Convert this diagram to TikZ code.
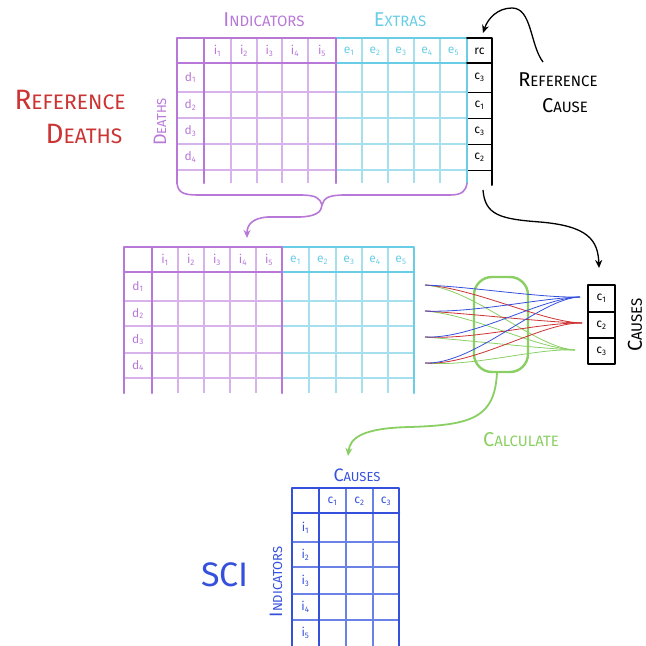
\documentclass[tikz,border=0pt]{standalone}
\usepackage{fontspec}
\setmainfont{Fira Sans}
\usetikzlibrary{arrows.meta}
\definecolor{pur}{HTML}{B878D8}
\definecolor{purl}{HTML}{D8B2EA}
\definecolor{cya}{HTML}{6ACDE6}
\definecolor{cyal}{HTML}{A6E0EF}
\definecolor{blu}{HTML}{3550DC}
\definecolor{bluel}{HTML}{6A82E6}
\definecolor{redc}{HTML}{CC3333}
\definecolor{grn}{HTML}{8ACF63}
\newcommand\scw[4]{{\fontsize{#1pt}{#1pt}\selectfont #3}{\fontsize{#2pt}{#2pt}\selectfont #4}}
\tikzset{
  thickp/.style={draw=pur,line width=2.6pt,line cap=round,line join=round},
  thinp/.style={draw=purl,line width=1.1pt},
  thickc/.style={draw=cya,line width=2.6pt,line cap=round,line join=round},
  thinc/.style={draw=cyal,line width=1.1pt},
  thickb/.style={draw=blu,line width=2.6pt,line cap=round,line join=round},
  thinb/.style={draw=bluel,line width=1.1pt},
  thickk/.style={draw=black,line width=2pt,line cap=round,line join=round},
  think/.style={draw=black,line width=1pt},
  lab/.style={font=\fontsize{12}{12}\selectfont,inner sep=0pt},
  fan/.style={line width=0.8pt},
  arr/.style={-{Stealth[length=8pt,width=7pt]}},
}
\begin{document}
\begin{tikzpicture}[x=1pt,y=-1pt]
\useasboundingbox (0,0) rectangle (646,646);

% ---------------- top table ----------------
\foreach \x in {231,257,282,308} \draw[thinp] (\x,38) -- (\x,183);
\foreach \y in {92,118,144,170} \draw[thinp] (177,\y) -- (336,\y);
\foreach \x in {362,388,414,440} \draw[thinc] (\x,38) -- (\x,183);
\foreach \y in {92,118,144,170} \draw[thinc] (336,\y) -- (467,\y);
\foreach \y in {92,118,144,170} \draw[think] (467,\y) -- (492,\y);
\draw[thickc] (336,38) -- (467,38) -- (467,183);
\draw[thickc] (336,63) -- (467,63);
\draw[thickp] (177,183) -- (177,38) -- (336,38) -- (336,183);
\draw[thickp] (204,38) -- (204,183);
\draw[thickp] (177,63) -- (336,63);
\draw[thickk] (467,38) -- (492,38) -- (492,185);
\draw[thickk] (467,63) -- (492,63);

\foreach [count=\k] \x in {217.5,244,269.5,295,322}
  \node[lab,text=pur] (ti\k) at (\x,51) {i\textsubscript{\k}};
\foreach [count=\k] \x in {349,375,401,427,453.5}
  \node[lab,text=cya] (te\k) at (\x,51) {e\textsubscript{\k}};
\foreach [count=\k] \y in {77.5,105,131,157}
  \node[lab,text=pur] (td\k) at (190.5,\y) {d\textsubscript{\k}};
\node[lab] (rc) at (479.5,51) {rc};
\foreach [count=\k] \y/\t in {77.5/3,105/1,131/3,157/2}
  \node[lab] (rcc\k) at (479.5,\y) {c\textsubscript{\t}};

\node[text=pur] (tind) at (264,20) {\scw{20}{15}{I}{NDICATORS}};
\node[text=cya] (textra) at (400,20) {\scw{20}{15}{E}{XTRAS}};
\node[text=pur,rotate=90] (tdeaths) at (160,122) {\scw{18}{13}{D}{EATHS}};
\node[text=redc,align=center] (refd) at (70,100) {\scw{28}{21}{R}{EFERENCE}};
\node[text=redc] (refd2) at (84,134) {\scw{28}{21}{D}{EATHS}};
\node (refc) at (558,80) {\scw{20}{15}{R}{EFERENCE}};
\node (refc2) at (565,106) {\scw{20}{15}{C}{AUSE}};

% brace and arrow
\coordinate (bl) at (177,183);
\coordinate (br) at (467,183);
\coordinate (bm) at (322,205);
\draw[pur,line width=1.6pt] (bl) .. controls (178,193) and (184,195) .. (198,195) -- (300,195)
   .. controls (316,195) and (320,198) .. (bm);
\draw[pur,line width=1.6pt] (bm) .. controls (324,198) and (328,195) .. (345,195) -- (450,195)
   .. controls (462,195) and (466,191) .. (br);
\coordinate (mt) at (247,238);
\draw[pur,line width=1.6pt,arr] (bm) .. controls (322,212) and (315,217) .. (298,217) -- (268,217)
   .. controls (252,218) and (247,225) .. (mt);

% reference cause arrow
\coordinate (rcs) at (543,62);
\coordinate (rce) at (483,33);
\draw[line width=1.3pt,arr] (rcs) .. controls (530,45) and (532,8) .. (512,8)
   .. controls (498,8) and (488,18) .. (rce);

% ---------------- middle table ----------------
\foreach \x in {178,204,230,256} \draw[thinp] (\x,247) -- (\x,393);
\foreach \y in {301,326,353,378} \draw[thinp] (124,\y) -- (282,\y);
\foreach \x in {309,336,362,388} \draw[thinc] (\x,247) -- (\x,393);
\foreach \y in {301,326,353,378} \draw[thinc] (282,\y) -- (414,\y);
\draw[thickc] (282,247) -- (414,247) -- (414,393);
\draw[thickc] (282,272) -- (414,272);
\draw[thickp] (124,393) -- (124,247) -- (282,247) -- (282,393);
\draw[thickp] (152,247) -- (152,393);
\draw[thickp] (124,272) -- (282,272);
\foreach [count=\k] \x in {165,191,217,243,269}
  \node[lab,text=pur] (mi\k) at (\x,260) {i\textsubscript{\k}};
\foreach [count=\k] \x in {295.5,322.5,349,375,401}
  \node[lab,text=cya] (me\k) at (\x,260) {e\textsubscript{\k}};
\foreach [count=\k] \y in {286.5,313.5,339.5,365.5}
  \node[lab,text=pur] (md\k) at (138,\y) {d\textsubscript{\k}};

% black arrow to causes
\coordinate (ds) at (483,190);
\coordinate (de) at (599,268);
\draw[line width=1.3pt,arr] (ds) .. controls (485,215) and (500,219) .. (540,222)
   .. controls (588,226) and (598,240) .. (de);

% causes box
\draw[thickk] (588,285) rectangle (615,364);
\draw[thickk] (588,312) -- (615,312);
\draw[thickk] (588,338) -- (615,338);
\node[lab] (cc1) at (601.5,298.5) {c\textsubscript{1}};
\node[lab] (cc2) at (601.5,325) {c\textsubscript{2}};
\node[lab] (cc3) at (601.5,351) {c\textsubscript{3}};
\node[rotate=90] (causesr) at (635,325) {\scw{20}{15}{C}{AUSES}};

% green bracket
\draw[grn,line width=2.4pt,rounded corners=18pt] (474,277) rectangle (528,372);

% fan lines
\coordinate (R1) at (580,297);
\coordinate (R2) at (582,323);
\coordinate (R3) at (575,350);
\foreach [count=\k] \y in {285,311,337,363} {
  \coordinate (L\k) at (425,\y);
  \draw[fan,grn] (L\k) .. controls +(50,4) and +(-40,-2) .. (R3);
  \draw[fan,redc] (L\k) .. controls +(50,3) and +(-40,-1) .. (R2);
  \draw[fan,blu] (L\k) .. controls +(50,2) and +(-40,1) .. (R1);
}

% calculate arrow
\coordinate (gs) at (497,372);
\coordinate (ge) at (348,456);
\draw[grn,line width=1.8pt,arr] (gs) .. controls (495,418) and (472,425) .. (410,427)
   .. controls (362,428) and (350,438) .. (ge);
\node[text=grn] (calc) at (521,440) {\scw{20}{15}{C}{ALCULATE}};

% ---------------- bottom table ----------------
\foreach \x in {346,373} \draw[thinb] (\x,488) -- (\x,646);
\foreach \y in {542,567,594,620} \draw[thinb] (292,\y) -- (399,\y);
\draw[thickb] (292,646) -- (292,488) -- (399,488) -- (399,646);
\draw[thickb] (319,488) -- (319,646);
\draw[thickb] (292,513) -- (399,513);
\foreach [count=\k] \x in {332.5,359.5,386}
  \node[lab,text=blu] (bc\k) at (\x,501) {c\textsubscript{\k}};
\foreach [count=\k] \y in {527.5,554.5,580.5,607,633}
  \node[lab,text=blu] (bi\k) at (305.5,\y) {i\textsubscript{\k}};
\node[text=blu] (bcauses) at (357,475) {\scw{18}{13}{C}{AUSES}};
\node[text=blu,rotate=90] (bind) at (276,582) {\scw{18}{13}{I}{NDICATORS}};
\node[text=blu] (sci) at (225,575) {\fontsize{34}{34}\selectfont SCI};
\end{tikzpicture}
\end{document}
